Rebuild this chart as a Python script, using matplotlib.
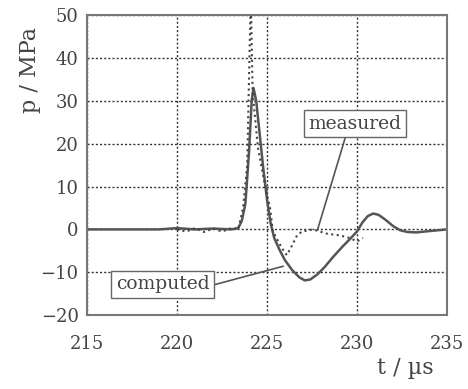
import matplotlib; matplotlib.use("Agg"); import matplotlib.pyplot as plt
plt.rcParams.update({"font.family": "DejaVu Serif", "font.size": 13})

# computed pressure trace (solid)
t_comp = [215, 219, 220, 221, 222, 223, 223.4, 223.6, 223.8, 224.0, 224.15, 224.25, 224.4, 224.6,
          224.8, 225.0, 225.2, 225.4, 225.7, 226.0, 226.4, 226.8, 227.1, 227.4, 227.8, 228.2,
          228.7, 229.2, 229.6, 230.0, 230.3, 230.6, 230.9, 231.2, 231.6, 232.0, 232.4, 232.8,
          233.3, 234.0, 235]
p_comp = [0, 0, 0.3, 0, 0.2, 0, 0.3, 2, 6, 18, 30, 33, 30, 22,
          14, 7, 1.5, -2, -4.8, -7.2, -9.5, -11.2, -11.9, -11.7, -10.5, -8.8,
          -6.3, -4, -2.3, -0.5, 1.6, 3.1, 3.7, 3.4, 2.2, 0.8, -0.2, -0.6,
          -0.7, -0.4, 0]

# measured pressure trace (dotted)
t_meas = [220, 220.5, 221, 221.5, 222, 222.5, 223, 223.4, 223.67, 223.9, 224.1, 224.2, 224.5,
          224.9, 225.17, 225.33, 225.83, 226.1, 226.4, 226.67, 226.94, 227.56, 228.33, 229.05,
          229.6, 230.0, 230.33]
p_meas = [0, -0.5, 0.3, -0.6, 0.2, -0.5, 0.3, 0, 5, 15, 55, 32, 19,
          10, 5, -0.5, -4.4, -6, -3.7, -1.4, -0.5, 0, -1, -1.4,
          -2, -2.8, -2]

xticks = [215, 220, 225, 230, 235]
yticks = [-20, -10, 0, 10, 20, 30, 40, 50]

fig = plt.figure(figsize=(4.68, 3.89), dpi=100)
ax = fig.add_axes([0.186, 0.190, 0.769, 0.771])
ax.plot(t_comp, p_comp, color="#555555", lw=1.8)
ax.plot(t_meas, p_meas, color="#444444", lw=1.5, ls=":")
ax.set_xlim(215, 235); ax.set_ylim(-20, 50)
ax.set_xticks(xticks); ax.set_yticks(yticks)
ax.grid(True, ls=(0, (1.5, 1.5)), color="#333333", lw=1.0)
ax.tick_params(length=0, labelcolor="#444444")
ax.tick_params(axis="x", pad=14)
ax.tick_params(axis="y", pad=6)
for s in ax.spines.values(): s.set_color("#777777"); s.set_linewidth(1.5)

box = dict(boxstyle="square,pad=0.25", fc="white", ec="#666666", lw=1.0)
ax.annotate("measured", xy=(227.8, -0.2), xytext=(229.9, 24.7), ha="center", va="center",
            fontsize=13.5, color="#444444", bbox=box,
            arrowprops=dict(arrowstyle="-", color="#555555", lw=1.2, shrinkA=0, shrinkB=0, relpos=(0.41, 0)))
ax.annotate("computed", xy=(225.9, -8.6), xytext=(219.2, -12.8), ha="center", va="center",
            fontsize=13.5, color="#444444", bbox=box,
            arrowprops=dict(arrowstyle="-", color="#555555", lw=1.2, shrinkA=0, shrinkB=0, relpos=(1, 0.4)))

fig.text(0.065, 0.82, "p / MPa", rotation=90, ha="center", va="center", fontsize=16, color="#444444")
fig.text(0.865, 0.055, "t / µs", ha="center", va="center", fontsize=16, color="#444444")
fig.savefig("out.png", dpi=100)
